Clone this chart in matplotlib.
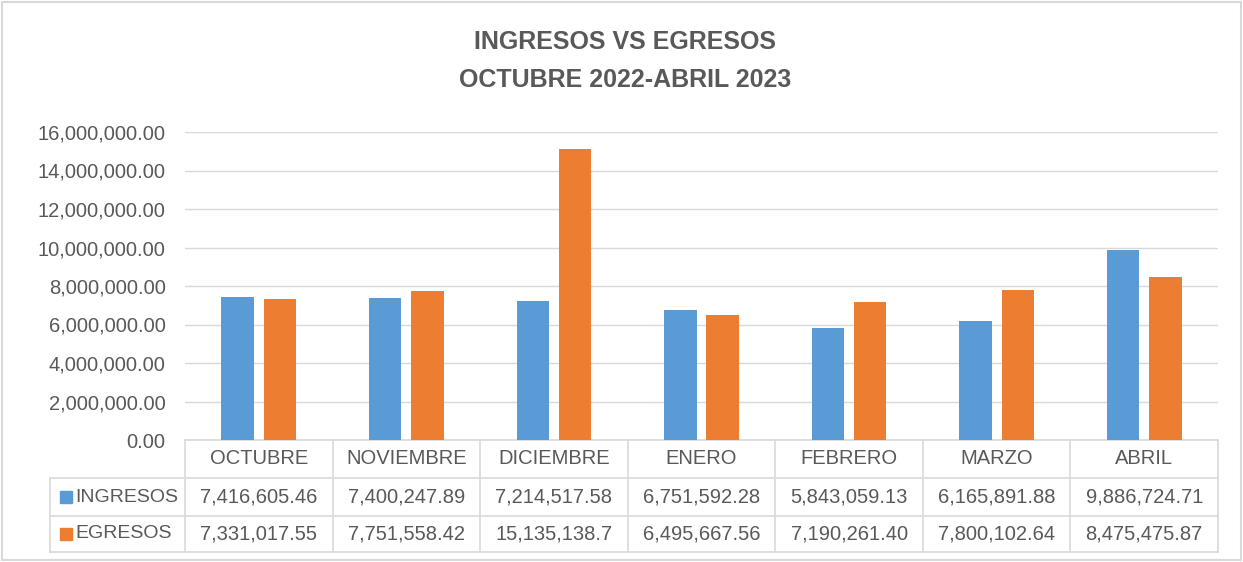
import matplotlib.pyplot as plt
import matplotlib.transforms as mtransforms
from matplotlib.patches import Rectangle
import numpy as np

meses = ["OCTUBRE", "NOVIEMBRE", "DICIEMBRE", "ENERO", "FEBRERO", "MARZO", "ABRIL"]
ingresos = [7416605.46, 7400247.89, 7214517.58, 6751592.28, 5843059.13, 6165891.88, 9886724.71]
egresos = [7331017.55, 7751558.42, 15135138.70, 6495667.56, 7190261.40, 7800102.64, 8475475.87]
series_names = ["INGRESOS", "EGRESOS"]
y_ticks = [0, 2000000, 4000000, 6000000, 8000000, 10000000, 12000000, 14000000, 16000000]

blue = "#5B9BD5"
orange = "#ED7D31"
text_color = "#595959"
line_color = "#D9D9D9"

plt.rcParams['font.family'] = ['Liberation Sans', 'DejaVu Sans']

fig = plt.figure(figsize=(12.43, 5.62), dpi=100)
ax = fig.add_axes([185 / 1243, 122 / 562, 1033 / 1243, 308 / 562])

x = np.arange(len(meses))
bar_w = 0.22
off = 0.143
ax.bar(x - off, ingresos, width=bar_w, color=blue, zorder=3)
ax.bar(x + off, egresos, width=bar_w, color=orange, zorder=3)

ax.set_xlim(-0.5, len(meses) - 0.5)
ax.set_ylim(0, 16000000)
ax.set_yticks(y_ticks)
ax.set_yticklabels(["{:,.2f}".format(v) for v in y_ticks], color=text_color, fontsize=14.5)
ax.tick_params(axis='y', length=0, pad=14)
ax.set_xticks([])
ax.grid(axis='y', color=line_color, lw=1, zorder=0)
for s in ax.spines.values():
    s.set_visible(False)

# data table under the chart
trans = mtransforms.blended_transform_factory(ax.transData, ax.transAxes)
r1, r2, r3 = -38 / 308, -76 / 308, -112 / 308
left_lab = -0.5 - 135 / 147.6
kw = dict(transform=trans, clip_on=False, color=line_color, lw=1.2)

ax.plot([-0.5, len(meses) - 0.5], [0, 0], **kw)
ax.plot([left_lab, len(meses) - 0.5], [r1, r1], **kw)
ax.plot([left_lab, len(meses) - 0.5], [r2, r2], **kw)
ax.plot([left_lab, len(meses) - 0.5], [r3, r3], **kw)
ax.plot([left_lab, left_lab], [r1, r3], **kw)
for b in np.arange(len(meses) + 1) - 0.5:
    ax.plot([b, b], [0, r3], **kw)


def fmt(v):
    s = "{:,.2f}".format(v)
    return s[:12]


fs = 14.5
for i, m in enumerate(meses):
    ax.text(i, r1 / 2, m, transform=trans, ha='center', va='center',
            fontsize=fs, color=text_color)
    ax.text(i, (r1 + r2) / 2, fmt(ingresos[i]), transform=trans, ha='center',
            va='center', fontsize=fs, color=text_color)
    ax.text(i, (r2 + r3) / 2, fmt(egresos[i]), transform=trans, ha='center',
            va='center', fontsize=fs, color=text_color)

sq = 12 / 147.6
for name, col, yc in [(series_names[0], blue, (r1 + r2) / 2), (series_names[1], orange, (r2 + r3) / 2)]:
    ax.add_patch(Rectangle((left_lab + 10 / 147.6, yc - 6 / 308), sq, 12 / 308,
                           transform=trans, clip_on=False, color=col))
    ax.text(left_lab + 25 / 147.6, yc, name, transform=trans, ha='left', va='center',
            fontsize=fs - 0.5, color=text_color)

fig.text(0.503, 1 - 42 / 562, "INGRESOS VS EGRESOS", ha='center', va='center',
         fontsize=18, fontweight='bold', color=text_color)
fig.text(0.503, 1 - 80 / 562, "OCTUBRE 2022-ABRIL 2023", ha='center', va='center',
         fontsize=18, fontweight='bold', color=text_color)

fig.add_artist(Rectangle((2 / 1243, 2 / 562), 1 - 4 / 1243, 1 - 4 / 562,
                         transform=fig.transFigure, fill=False, edgecolor=line_color, lw=1.5))

fig.savefig("out.png", dpi=100)
